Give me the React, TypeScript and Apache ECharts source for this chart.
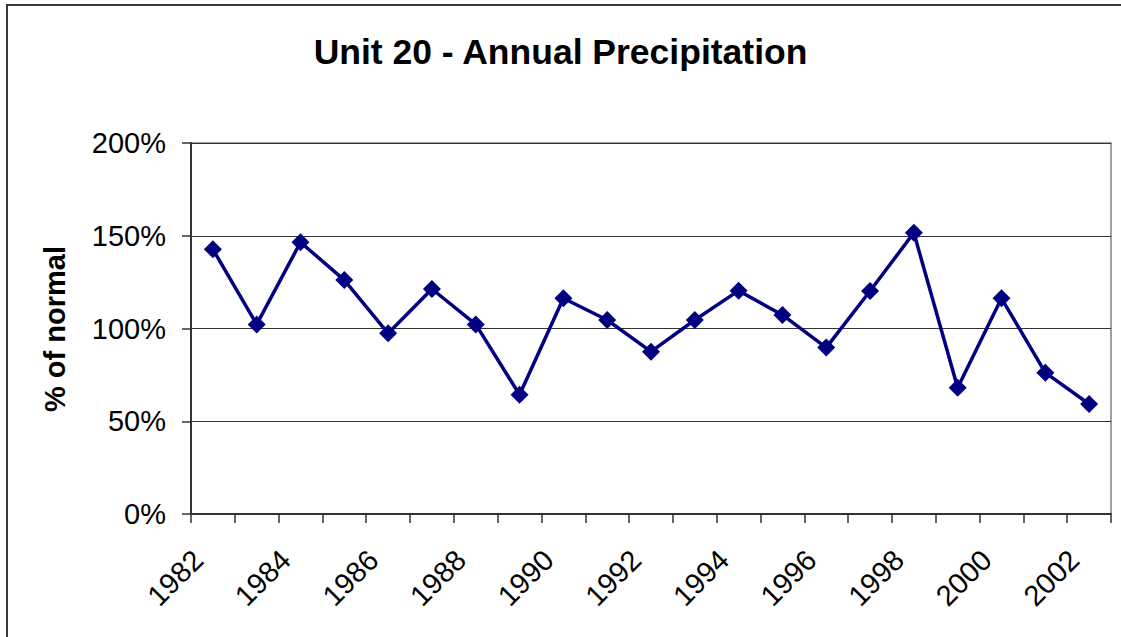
import React, { useEffect, useRef } from "react";
import * as echarts from "echarts";

const titleText = "Unit 20 - Annual Precipitation";
const yAxisTitle = "% of normal";
const years = [1982, 1983, 1984, 1985, 1986, 1987, 1988, 1989, 1990, 1991, 1992, 1993, 1994, 1995, 1996, 1997, 1998, 1999, 2000, 2001, 2002];
const percentOfNormal = [142.7, 102.2, 146.5, 126.1, 97.4, 121.3, 102.2, 64.3, 116.3, 104.6, 87.5, 104.6, 120.4, 107.3, 89.7, 120.2, 151.6, 68.1, 116.3, 76.2, 59.3];
const yMin = 0;
const yMax = 200;
const yStep = 50;

const FONT = "'Liberation Sans', Arial, Helvetica, sans-serif";

export default function App() {
  const ref = useRef<HTMLDivElement>(null);
  useEffect(() => {
    if (!ref.current) return;
    const chart = echarts.init(ref.current, undefined, { renderer: "svg" });
    const yearLabels = years.map(String);
    const boundaryLabels = [...yearLabels, ""];
    const labelShift = 7;
    chart.setOption({
      animation: false,
      backgroundColor: "#ffffff",
      textStyle: { fontFamily: FONT },
      title: {
        text: titleText,
        left: "center",
        top: 29,
        textStyle: { fontFamily: FONT, fontSize: 35.5, fontWeight: "bold", color: "#000" },
      },
      graphic: [
        {
          type: "rect",
          shape: { x: 7, y: 5, width: 1140, height: 660 },
          style: { fill: "none", stroke: "#3a3a3a", lineWidth: 2 },
          silent: true,
        },
        {
          type: "text",
          x: 55,
          y: 329,
          rotation: Math.PI / 2,
          style: {
            text: yAxisTitle,
            font: `bold 29px ${FONT}`,
            fill: "#000",
            align: "center",
            verticalAlign: "middle",
          },
          silent: true,
        },
      ],
      grid: [
        {
          left: 191,
          top: 143,
          right: 10,
          bottom: 123,
          show: true,
          borderColor: "#a0a0a0",
          borderWidth: 2,
          backgroundColor: "transparent",
        },
        {
          left: 191 + labelShift,
          top: 143,
          right: 10 - labelShift,
          bottom: 123,
          show: false,
        },
      ],
      xAxis: [
        {
          type: "category",
          gridIndex: 0,
          data: yearLabels,
          boundaryGap: true,
          position: "bottom",
          axisLine: { show: true, lineStyle: { color: "#333", width: 2 } },
          axisTick: { show: true, interval: 0, length: 9, lineStyle: { color: "#333", width: 1.5 } },
          axisLabel: { show: false },
          splitLine: { show: false },
        },
        {
          type: "category",
          gridIndex: 1,
          data: boundaryLabels,
          boundaryGap: false,
          position: "bottom",
          axisLine: { show: false },
          axisTick: { show: false },
          axisLabel: {
            show: true,
            interval: 1,
            rotate: 45,
            margin: 41,
            fontSize: 29,
            fontFamily: FONT,
            color: "#000",
          },
          splitLine: { show: false },
        },
      ],
      yAxis: [
        {
          type: "value",
          gridIndex: 0,
          min: yMin,
          max: yMax,
          interval: yStep,
          axisLine: { show: true, lineStyle: { color: "#333", width: 2 } },
          axisTick: { show: true, length: 9, lineStyle: { color: "#333", width: 1.5 } },
          axisLabel: {
            formatter: (v: number) => `${v}%`,
            fontSize: 29,
            fontFamily: FONT,
            color: "#000",
            margin: 25,
          },
          splitLine: { show: true, lineStyle: { color: "#333", width: 1.2 } },
        },
        {
          type: "value",
          gridIndex: 1,
          min: yMin,
          max: yMax,
          interval: yStep,
          show: false,
        },
      ],
      series: [
        {
          type: "line",
          xAxisIndex: 0,
          yAxisIndex: 0,
          data: percentOfNormal,
          symbol: "diamond",
          symbolSize: 18,
          lineStyle: { color: "#000080", width: 3.5 },
          itemStyle: { color: "#000080" },
        },
      ],
    });
    return () => chart.dispose();
  }, []);
  return (
    <div
      ref={ref}
      style={{ position: "absolute", left: 0, top: 0, width: 1121, height: 637 }}
    />
  );
}
